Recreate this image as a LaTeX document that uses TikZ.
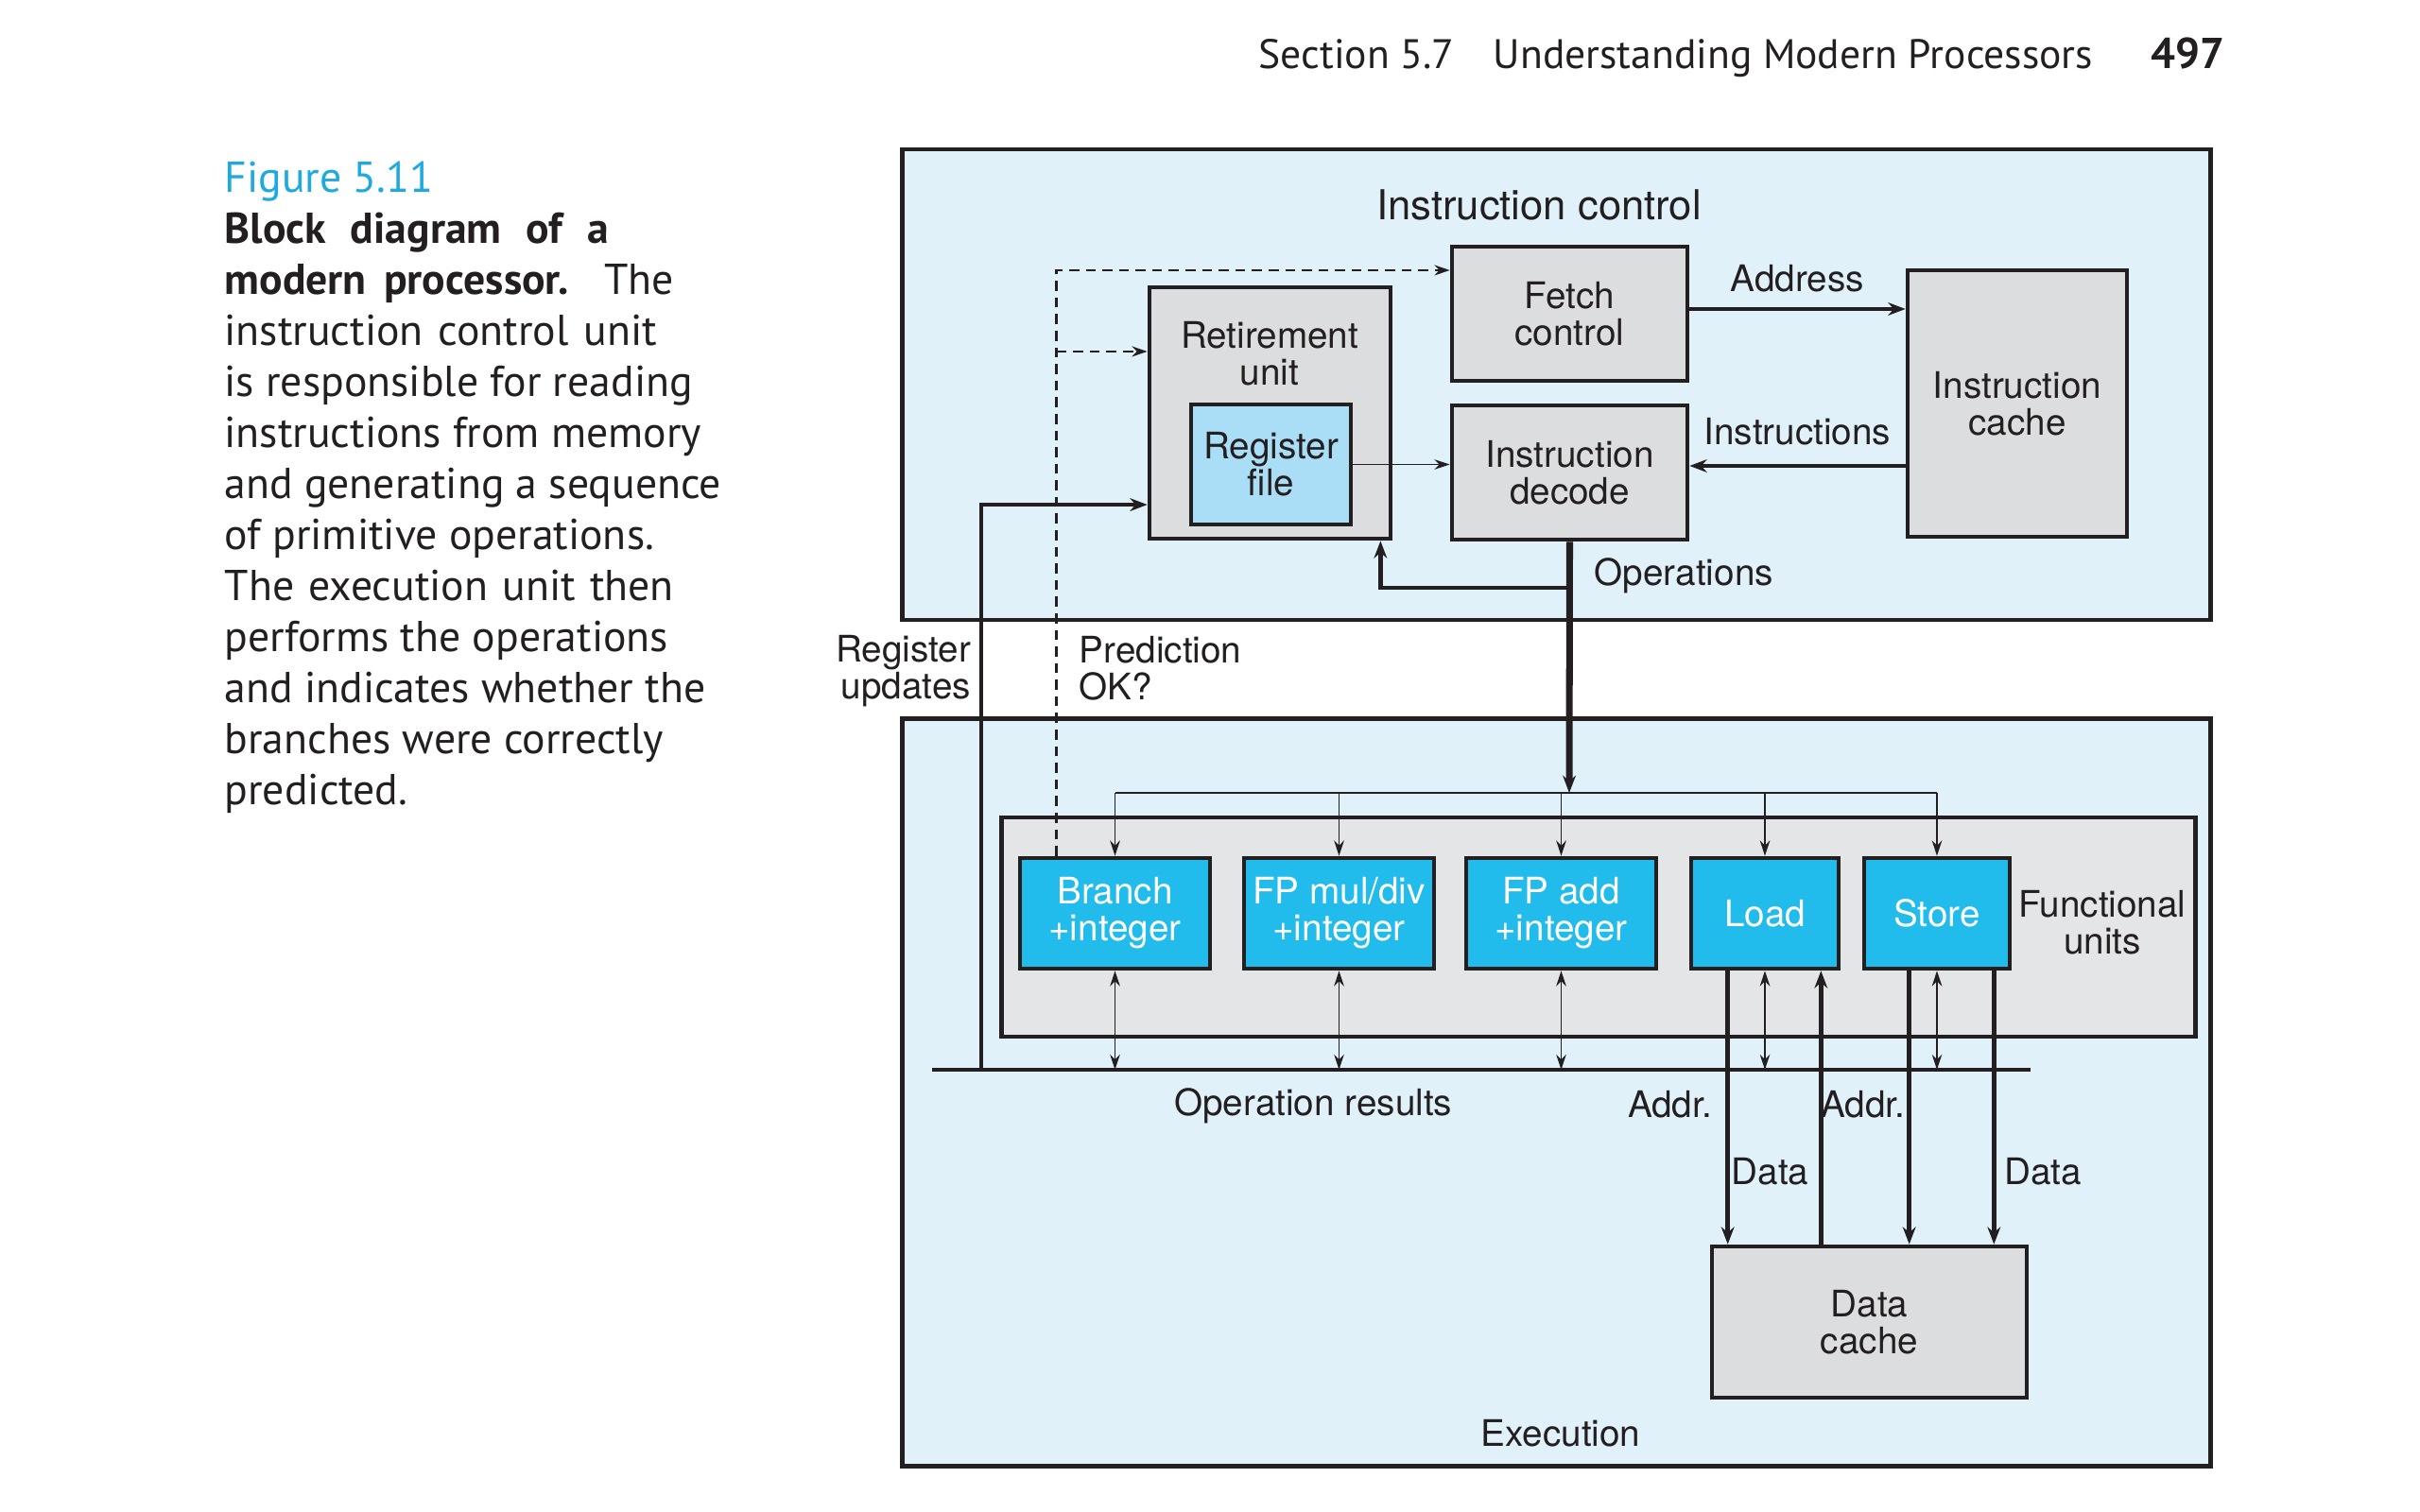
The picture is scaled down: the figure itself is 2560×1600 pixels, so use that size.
\documentclass[tikz,border=0pt]{standalone}
\usepackage{fontspec}
\setmainfont{TeX Gyre Heros}
\newfontfamily\capfont{PT Sans}
\usetikzlibrary{arrows.meta}
\definecolor{edge}{HTML}{231F20}
\definecolor{panelblue}{HTML}{E0F1FA}
\definecolor{blkgray}{HTML}{DCDDDF}
\definecolor{fugray}{HTML}{E4E5E7}
\definecolor{regblue}{HTML}{A9DEF6}
\definecolor{fucyan}{HTML}{21BBEC}
\definecolor{figcyan}{HTML}{1FA9E1}

\begin{document}
\begin{tikzpicture}[x=0.01cm, y=-0.01cm,
  every node/.style={font=\fontsize{11}{11.1}\selectfont, align=center, inner sep=0pt, text=edge},
  >={Stealth[length=4.6pt, width=3pt]},
  panel/.style={draw=edge, line width=1.3pt, fill=panelblue},
  blk/.style={draw=edge, line width=1.3pt, fill=blkgray},
  fu/.style={draw=edge, line width=1.3pt, fill=fucyan, text=white, minimum height=1.17cm},
  thinline/.style={draw=edge, line width=0.55pt},
  heavy/.style={draw=edge, line width=1.3pt, -{Stealth[length=5.2pt, width=3.9pt]}},
  dashline/.style={draw=edge, dash pattern=on 3pt off 2pt, line width=0.75pt, -{Stealth[length=4.6pt, width=3.1pt]}},
  captext/.style={font=\capfont\fontsize{13}{15.37}\selectfont},
]
\useasboundingbox (0,0) rectangle (2560,1600);

% running head and caption
\node[captext, font=\capfont\fontsize{12.4}{15}\selectfont, anchor=base west] (sect) at (1331,73) {Section 5.7};
\node[captext, font=\capfont\fontsize{12.4}{15}\selectfont, anchor=base west] (title) at (1579,73) {Understanding Modern Processors};
\node[captext, font=\capfont\bfseries\fontsize{13}{15.37}\selectfont, anchor=base east] (page) at (2354,73) {497};
\node[captext, anchor=north west, align=left] (caption) at (237,170) {%
  \textcolor{figcyan}{Figure 5.11}\\
  \makebox[4.06cm][s]{\textbf{Block diagram of a}}\\
  \makebox[4.75cm][s]{\textbf{modern processor.} The}\\
  \makebox[4.57cm][s]{instruction control unit}\\
  is responsible for reading\\
  instructions from memory\\
  and generating a sequence\\
  of primitive operations.\\
  \makebox[4.75cm][s]{The execution unit then}\\
  performs the operations\\
  and indicates whether the\\
  branches were correctly\\
  predicted.};

% the two panels
\node[panel, minimum width=13.83cm, minimum height=4.98cm] (ictl) at (1646.5,407) {};
\node[panel, minimum width=13.83cm, minimum height=7.90cm] (exec) at (1646.5,1156) {};
\node[font=\fontsize{12.4}{13}\selectfont] (ictllbl) at (1628,217) {Instruction control};
\node (execlbl) at (1651,1517) {Execution};

% instruction control
\node[blk, minimum width=2.49cm, minimum height=1.42cm] (fetch) at (1660.5,332) {Fetch\\control};
\node[blk, minimum width=2.55cm, minimum height=2.66cm] (retire) at (1343.5,437) {};
\node (retlbl) at (1343,374) {Retirement\\unit};
\node[blk, fill=regblue, minimum width=1.69cm, minimum height=1.27cm] (regfile) at (1344.5,491.5) {Register\\file};
\node[blk, minimum width=2.49cm, minimum height=1.42cm] (decode) at (1660.5,500) {Instruction\\decode};
\node[blk, minimum width=2.32cm, minimum height=2.82cm] (icache) at (2134,427) {Instruction\\cache};

% execution
\node[blk, fill=fugray, minimum width=12.62cm, minimum height=2.32cm] (funits) at (1691,981) {};
\node (fulbl) at (2224,976) {Functional\\units};
\node[fu, minimum width=2.01cm] (branch) at (1179.5,966.5) {Branch\\+integer};
\node[fu, minimum width=2.01cm] (fpmul) at (1416.5,966.5) {FP mul/div\\+integer};
\node[fu, minimum width=2.01cm] (fpadd) at (1651.5,966.5) {FP add\\+integer};
\node[fu, minimum width=1.56cm] (load) at (1867,966.5) {Load};
\node[fu, minimum width=1.54cm] (store) at (2049,966.5) {Store};
\node[blk, minimum width=3.33cm, minimum height=1.60cm] (dcache) at (1977.5,1399) {Data\\cache};

\coordinate (dist) at (1660,839);
\coordinate (opsplit) at (1660,622);
\coordinate (busL) at (986,1132);
\coordinate (busR) at (2148,1132);
\coordinate (regup) at (1038,1132);
\coordinate (pred) at ([xshift=0.41cm]branch.north west);
\coordinate (retdash) at ([yshift=0.65cm]retire.west);
\coordinate (ldaddr) at ([xshift=0.41cm]load.south west);
\coordinate (lddata) at ([xshift=-0.21cm]load.south east);
\coordinate (staddr) at ([xshift=0.5cm]store.south west);
\coordinate (stdata) at ([xshift=-0.19cm]store.south east);

% fetch and decode
\draw[heavy] ([yshift=0.05cm]fetch.east) -- node[midway, above=4.5pt] {Address} ([yshift=0.05cm]fetch.east -| icache.west);
\draw[heavy] ([yshift=0.07cm]icache.west |- decode.east) -- node[midway, above=5.5pt] {Instructions} ([yshift=0.07cm]decode.east);
\draw[thinline, ->] (regfile.east) -- (regfile.east -| decode.west);
\draw[heavy, line width=2pt] (decode.south) -- node[pos=0.134, right=6.5pt] {Operations} (dist);
\draw[heavy] (opsplit) -| ([xshift=-0.13cm]retire.south east);

% feedback from execution
\draw[heavy] (regup) |- node[pos=0.353, left=2.5pt, align=right] {Register\\updates} ([yshift=-0.97cm]retire.west);
\draw[dashline] (pred) |- node[pos=0.16, right=6.5pt, align=left] {Prediction\\OK?} ([yshift=0.46cm]fetch.west);
\draw[dashline] (pred |- retdash) -- (retdash);

% functional units
\draw[thinline] (branch.north |- dist) -- (store.north |- dist);
\foreach \u in {branch,fpmul,fpadd,load,store} {
  \draw[thinline, ->] (\u.north |- dist) -- (\u.north);
  \draw[thinline, <->] (\u.south) -- (\u.south |- busL);
}
\draw[edge, line width=1.3pt] (busL) -- node[pos=0.347, below=5pt] {Operation results} (busR);

% data cache
\draw[heavy] (ldaddr) -- node[pos=0.49, left=4pt] {Addr.} (ldaddr |- dcache.north);
\draw[heavy] (lddata |- dcache.north) -- node[pos=0.265, left=3pt] {Data} (lddata);
\draw[heavy] (staddr) -- node[pos=0.49, left=0.5pt] {Addr.} (staddr |- dcache.north);
\draw[heavy] (stdata) -- node[pos=0.735, right=2.5pt] {Data} (stdata |- dcache.north);
\end{tikzpicture}
\end{document}
